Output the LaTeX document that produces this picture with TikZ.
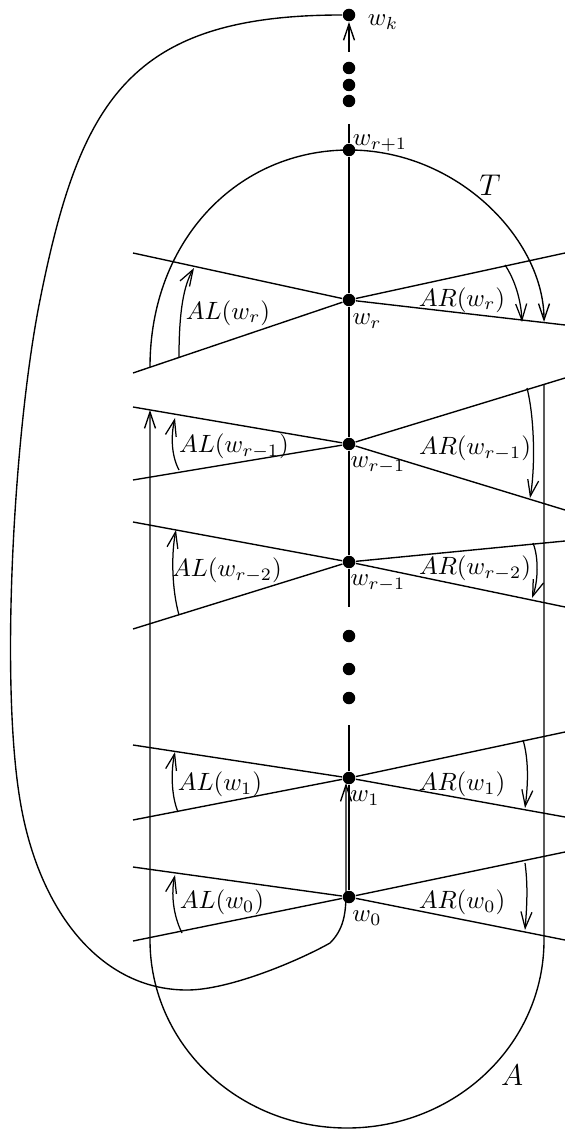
\documentclass[tikz,border=0pt]{standalone}
\usepackage{amsmath,amssymb}
\usepackage{tikz}
\usetikzlibrary{arrows.meta,positioning}

\begin{document}
\begin{tikzpicture}[
        x=0.4pt, y=-0.4pt,
        >={Straight Barb[length=6.5pt,width=4.4pt]},
        line width=0.55pt,
        vertex/.style={circle, fill, inner sep=0pt, minimum size=5pt},
        sweep/.style={->, line width=0.5pt},
        vlabel/.style={inner sep=0pt},
        alabel/.style={inner sep=0pt},
        big/.style={font=\large, inner sep=0pt}
    ]
        \useasboundingbox (0,0) rectangle (565,1130);

        \node[vertex] (wk) at (349,15) {};
        \node[vertex] (d1) at (349,68) {};
        \node[vertex] (d2) at (349,85) {};
        \node[vertex] (d3) at (349,101) {};
        \node[vertex] (wr1) at (349,150) {};
        \node[vertex] (wr) at (349,300) {};
        \node[vertex] (wrm1) at (349,444) {};
        \node[vertex] (wrm2) at (349,562) {};
        \node[vertex] (d4) at (349,636) {};
        \node[vertex] (d5) at (349,669) {};
        \node[vertex] (d6) at (349,698) {};
        \node[vertex] (w1) at (349,778) {};
        \node[vertex] (w0) at (349,897) {};

        \coordinate (wktail) at (349,52);
        \coordinate (wr1top) at (349,124);
        \coordinate (midend) at (349,607);
        \coordinate (lowtop) at (349,725);
        \coordinate (w1in) at (346,783);

        \node[vlabel] (lwk) at (383,22) {$w_k$};
        \node[vlabel] (lwr1) at (380,143) {$w_{r+1}$};
        \node[vlabel] (lwr) at (367,321) {$w_r$};
        \node[vlabel] (lwrm1) at (378,465) {$w_{r-1}$};
        \node[vlabel] (lwrm2) at (378,583) {$w_{r-1}$};
        \node[vlabel] (lw1) at (365,798) {$w_1$};
        \node[vlabel] (lw0) at (367,918) {$w_0$};

        \draw[->] (wktail) -- (wk);
        \draw (wr1top) -- (wr1) -- (wr) -- (wrm1) -- (wrm2) -- (midend);
        \draw (lowtop) -- (w1) -- (w0);

        \draw (133,253) -- (wr) -- (133,373);
        \draw (565,253) -- (wr) -- (565,325);
        \draw (133,407) -- (wrm1) -- (133,480);
        \draw (565,378) -- (wrm1) -- (565,510);
        \draw (133,522) -- (wrm2) -- (133,629);
        \draw (565,541) -- (wrm2) -- (565,607);
        \draw (133,745) -- (w1) -- (133,820);
        \draw (565,732) -- (w1) -- (565,817);
        \draw (133,867) -- (w0) -- (133,941);
        \draw (565,852) -- (w0) -- (565,940);

        \draw[sweep] (179,357) .. controls (179,310) and (184,285) .. (194,268);
        \draw[sweep] (179,470) .. controls (171,455) and (171,435) .. (175,418);
        \draw[sweep] (179,615) .. controls (172,590) and (171,555) .. (176,530);
        \draw[sweep] (178,812) .. controls (171,795) and (171,770) .. (175,752);
        \draw[sweep] (182,933) .. controls (173,915) and (171,893) .. (175,875);

        \draw[sweep] (505,265) .. controls (515,280) and (521,300) .. (522,322);
        \draw[sweep] (527,388) .. controls (535,420) and (535,470) .. (530,498);
        \draw[sweep] (533,543) .. controls (539,558) and (538,582) .. (532,598);
        \draw[sweep] (523,740) .. controls (529,760) and (528,785) .. (525,808);
        \draw[sweep] (525,863) .. controls (528,885) and (527,905) .. (525,930);

        \node[alabel] (alwr) at (228,313) {$AL(w_r)$};
        \node[alabel] (alwrm1) at (234,446) {$AL(w_{r-1})$};
        \node[alabel] (alwrm2) at (227,570) {$AL(w_{r-2})$};
        \node[alabel] (alw1) at (220,784) {$AL(w_1)$};
        \node[alabel] (alw0) at (222,902) {$AL(w_0)$};
        \node[alabel] (arwr) at (462,300) {$AR(w_r)$};
        \node[alabel] (arwrm1) at (475,448) {$AR(w_{r-1})$};
        \node[alabel] (arwrm2) at (475,568) {$AR(w_{r-2})$};
        \node[alabel] (arw1) at (462,784) {$AR(w_1)$};
        \node[alabel] (arw0) at (462,902) {$AR(w_0)$};

        \draw[->] (150,367) .. controls (150,240) and (238,150) .. (wr1.center)
            .. controls (458,150) and (544,240) .. (544,322);
        \node[big] (tlab) at (490,185) {$T$};

        \draw[->] (544,385) -- (544,940) .. controls (544,1044) and (456,1128) .. (347,1128)
            .. controls (238,1128) and (150,1044) .. (150,940) -- (150,410);
        \node[big] (alab) at (512,1075) {$A$};

        \draw[->] (wk) .. controls (130,15) and (80,100) .. (40,300)
            .. controls (14,430) and (0,680) .. (20,800)
            .. controls (38,910) and (100,990) .. (187,990)
            .. controls (230,990) and (300,960) .. (330,943)
            .. controls (343,930) and (346,915) .. (346,893) -- (w1in);
\end{tikzpicture}
\end{document}
